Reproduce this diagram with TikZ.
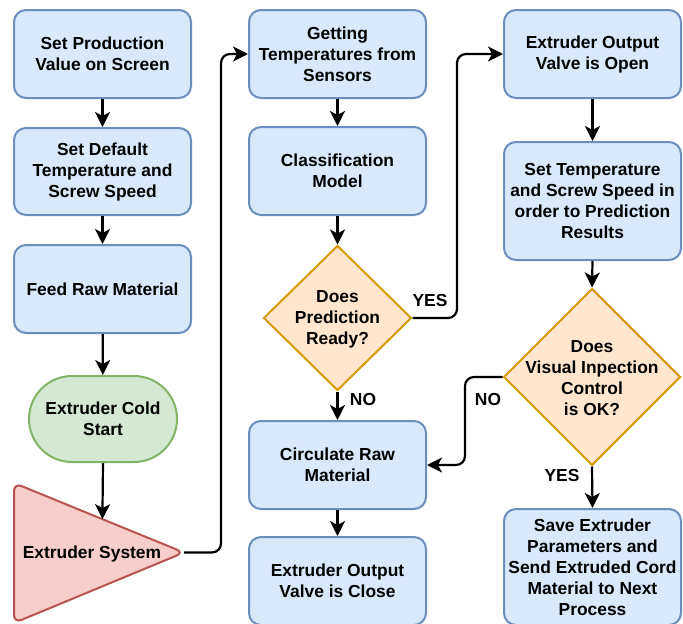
\documentclass[tikz,border=0pt]{standalone}
\usepackage{fontspec}
\setmainfont{Liberation Sans}
\usetikzlibrary{shapes.geometric,arrows.meta,calc}
\definecolor{bfill}{HTML}{DAE8FC}
\definecolor{bdraw}{HTML}{6C8EBF}
\definecolor{gfill}{HTML}{D5E8D4}
\definecolor{gdraw}{HTML}{82B366}
\definecolor{ofill}{HTML}{FFE6CC}
\definecolor{odraw}{HTML}{D79B00}
\definecolor{rfill}{HTML}{F8CECC}
\definecolor{rdraw}{HTML}{B85450}
\begin{document}
\begin{tikzpicture}[x=1pt,y=-1pt,
  every node/.style={font=\fontsize{17.4}{21}\selectfont\bfseries, align=center, inner sep=0pt},
  box/.style={draw=bdraw, fill=bfill, line width=2pt, rounded corners=12pt, minimum width=177pt},
  dia/.style={diamond, draw=odraw, fill=ofill, line width=2pt, inner sep=0pt},
  arr/.style={draw=black, line width=2.2pt, rounded corners=9pt, -{Stealth[length=15pt,width=15pt,inset=4pt]}},
  lbl/.style={font=\fontsize{17.4}{21}\selectfont\bfseries}
]
\useasboundingbox (0,0) rectangle (683,624);

% column 1
\node[box, minimum height=88pt] (b1) at (102.5,54) {Set Production\\Value on Screen};
\node[box, minimum height=87pt] (b2) at (102.5,171.5) {Set Default\\Temperature and\\Screw Speed};
\node[box, minimum height=88pt] (b3) at (102.5,289) {Feed Raw Material};
\node[draw=gdraw, fill=gfill, line width=2pt, rounded corners=43pt, minimum width=148pt, minimum height=86pt] (st) at (103,419) {Extruder Cold\\Start};

\coordinate (t1) at (14,483);
\coordinate (t2) at (14,623);
\coordinate (tip) at (184,552.5);
\draw[draw=rdraw, fill=rfill, line width=2pt, rounded corners=8pt] (t1) -- (tip) -- (t2) -- cycle;
\node (tri) at (92,554) {Extruder System};
\coordinate (ta) at ($(t1)!0.52!(tip)$);

% column 2
\node[box, minimum height=88pt] (g1) at (337.5,54) {Getting\\Temperatures from\\Sensors};
\node[box, minimum height=88pt] (g2) at (337.5,171) {Classification\\Model};
\node[dia, minimum width=148pt, minimum height=145pt] (d1) at (337.5,318) {};
\node (d1t) at (337.5,319.5) {Does\\Prediction\\Ready?};
\node[box, minimum height=88pt] (g3) at (337.5,465) {Circulate Raw\\Material};
\node[box, minimum height=88pt] (g4) at (337.5,581) {Extruder Output\\Valve is Close};

% column 3
\node[box, minimum height=88pt] (h1) at (592.5,54) {Extruder Output\\Valve is Open};
\node[box, minimum height=118pt] (h2) at (592.5,201) {Set Temperature\\and Screw Speed in\\order to Prediction\\Results};
\node[dia, minimum width=177pt, minimum height=177pt] (d2) at (592,377) {};
\node (d2t) at (592,378.5) {Does\\Visual Inpection\\Control\\is OK?};
\node[box, minimum height=116pt] (h3) at (592.5,567) {Save Extruder\\Parameters and\\Send Extruded Cord\\Material to Next\\Process};

% connectors
\draw[arr] (b1) -- (b2);
\draw[arr] (b2) -- (b3);
\draw[arr] (b3) -- (st);
\draw[arr] (st.south) -- (ta);
\coordinate (c1) at (221,552.5);
\draw[arr] (tip) -- (c1) |- (g1.west);
\draw[arr] (g1) -- (g2);
\draw[arr] (g2.south) -- (d1.north);
\coordinate (c2) at (457,318);
\draw[arr] (d1.east) -- (c2) |- (h1.west);
\node[lbl] (yes1) at (430,301) {YES};
\draw[arr] (d1.south) -- (g3.north);
\node[lbl] (no1) at (363,400) {NO};
\draw[arr] (g3) -- (g4);
\draw[arr] (h1) -- (h2);
\draw[arr] (h2.south) -- (d2.north);
\coordinate (c3) at (465,377);
\draw[arr] (d2.west) -- (c3) |- (g3.east);
\node[lbl] (no2) at (488,400) {NO};
\draw[arr] (d2.south) -- (h3.north);
\node[lbl] (yes2) at (562,476) {YES};
\end{tikzpicture}
\end{document}
